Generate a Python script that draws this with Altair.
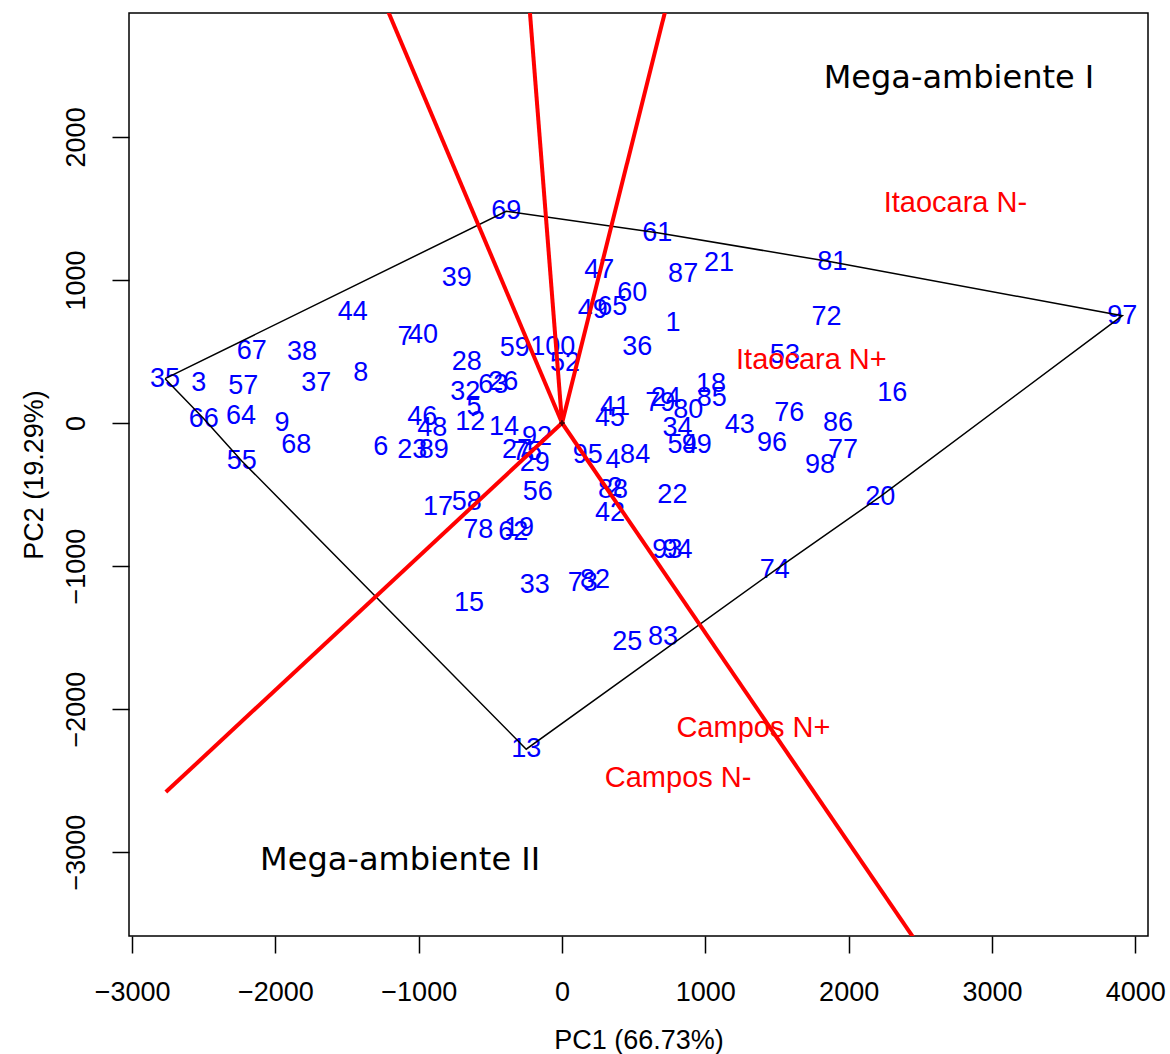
import altair as alt
import pandas as pd

# Genotype scores on the first two principal components
genotype = [1, 2, 3, 4, 5, 6, 7, 8, 9, 12, 13, 14, 15, 16, 17, 18, 19, 20, 21, 22,
            23, 24, 25, 26, 27, 28, 29, 32, 33, 34, 35, 36, 37, 38, 39, 40, 41, 42,
            43, 44, 45, 46, 47, 48, 49, 52, 53, 54, 55, 56, 57, 58, 59, 60, 61, 62,
            63, 64, 65, 66, 67, 68, 69, 72, 73, 74, 75, 76, 77, 78, 79, 80, 81, 82,
            83, 84, 85, 86, 87, 88, 89, 92, 93, 94, 95, 96, 97, 98, 99, 100]
pc1 = [775, 370, -2535, 355, -615, -1265, -1095, -1405, -1955, -640, -250, -405,
       -650, 2305, -865, 1040, -300, 2220, 1095, 770, -1045, 725, 455, -410, -315,
       -665, -190, -675, -190, 805, -2770, 525, -1715, -1815, -735, -970, 370, 335,
       1240, -1460, 335, -975, 260, -905, 215, 20, 1555, 840, -2235, -170, -2225,
       -665, -330, 490, 665, -340, -480, -2240, 350, -2500, -2165, -1855, -390,
       1845, 145, 1485, -245, 1585, 1960, -585, 685, 880, 1885, 230, 705, 510,
       1045, 1925, 845, 355, -895, -175, 735, 805, 180, 1465, 3910, 1800, 940, -65]
pc2 = [700, -455, 280, -260, 110, -170, 600, 350, 0, 5, -2280, -30, -1260, 210,
       -585, 275, -735, -515, 1120, -505, -190, 175, -1530, 285, -190, 425, -280,
       215, -1130, -35, 310, 530, 280, 495, 1015, 615, 110, -630, -15, 775, 35, 40,
       1070, -35, 790, 420, 475, -155, -265, -480, 260, -550, 525, 910, 1330, -760,
       265, 50, 810, 30, 505, -155, 1480, 740, -1120, -1030, -205, 70, -190, -750,
       140, 90, 1125, -1100, -1495, -225, 175, 0, 1040, -470, -190, -100, -890,
       -890, -225, -140, 750, -295, -155, 530]

# Environment markers
environment = ["Itaocara N-", "Itaocara N+", "Campos N+", "Campos N-"]
env_pc1 = [2745, 1740, 1335, 810]
env_pc2 = [1540, 440, -2130, -2480]

# Outer ends of the sector-dividing rays (all start at the origin)
ray_end_pc1 = [-1350, -250, 800, -2765, 2590]
ray_end_pc2 = [3200, 3200, 3200, -2580, -3800]

# Vertex genotypes of the convex hull, in drawing order
hull_order = [35, 69, 61, 81, 97, 20, 74, 13, 55, 66, 35]

# Mega-environment names
sector = ["Mega-ambiente I", "Mega-ambiente II"]
sector_pc1 = [2770, -1130]
sector_pc2 = [2410, -3055]

x_ticks = [-3000, -2000, -1000, 0, 1000, 2000, 3000, 4000]
y_ticks = [-3000, -2000, -1000, 0, 1000, 2000]

geno_df = pd.DataFrame({"genotype": [str(g) for g in genotype], "pc1": pc1, "pc2": pc2})
lookup = {g: (a, b) for g, a, b in zip(genotype, pc1, pc2)}
hull_df = pd.DataFrame({
    "step": list(range(len(hull_order))),
    "pc1": [lookup[g][0] for g in hull_order],
    "pc2": [lookup[g][1] for g in hull_order],
})
ray_df = pd.DataFrame({
    "pc1": [0] * len(ray_end_pc1), "pc2": [0] * len(ray_end_pc1),
    "pc1_end": ray_end_pc1, "pc2_end": ray_end_pc2,
})
env_df = pd.DataFrame({"label": environment, "pc1": env_pc1, "pc2": env_pc2})
sector_df = pd.DataFrame({"label": sector, "pc1": sector_pc1, "pc2": sector_pc2})
origin_df = pd.DataFrame({"pc1": [0], "pc2": [0]})

x_scale = alt.Scale(domain=[-3022, 4089], nice=False, zero=False)
y_scale = alt.Scale(domain=[-3586, 2866], nice=False, zero=False)

x_axis = alt.Axis(values=x_ticks, format="d", title="PC1 (66.73%)",
                  labelBaseline="alphabetic", labelPadding=47,
                  titleBaseline="alphabetic", titleY=112)
y_axis = alt.Axis(values=y_ticks, format="d", title="PC2 (19.29%)",
                  labelAngle=270, labelAlign="center", labelBaseline="alphabetic",
                  labelPadding=28, titleAngle=270, titleBaseline="alphabetic",
                  titleX=-87)


def xe(field="pc1"):
    return alt.X(f"{field}:Q", scale=x_scale, axis=x_axis)


def ye(field="pc2"):
    return alt.Y(f"{field}:Q", scale=y_scale, axis=y_axis)


genotypes = alt.Chart(geno_df).mark_text(
    font="Liberation Sans", fontSize=27, color="#0000FF",
    align="center", baseline="middle"
).encode(x=xe(), y=ye(), text="genotype:N")

hull = alt.Chart(hull_df).mark_line(color="black", strokeWidth=1.5).encode(
    x=xe(), y=ye(), order="step:Q"
)

rays = alt.Chart(ray_df).mark_rule(color="#FF0000", strokeWidth=4, clip=True).encode(
    x=xe(), y=ye(), x2="pc1_end:Q", y2="pc2_end:Q"
)

origin = alt.Chart(origin_df).mark_point(
    shape="cross", color="black", filled=True, size=30
).encode(x=xe(), y=ye())

env_labels = alt.Chart(env_df).mark_text(
    font="Liberation Sans", fontSize=29, color="#FF0000",
    align="center", baseline="middle"
).encode(x=xe(), y=ye(), text="label:N")

sector_labels = alt.Chart(sector_df).mark_text(
    font="DejaVu Sans", fontSize=32, color="black",
    align="center", baseline="middle"
).encode(x=xe(), y=ye(), text="label:N")

chart = alt.layer(
    genotypes, hull, rays, origin, env_labels, sector_labels
).properties(
    width=1019, height=923,
    padding={"left": 129, "top": 13, "right": 22, "bottom": 118},
    autosize=alt.AutoSizeParams(type="none"),
    background="white",
).configure_view(
    stroke="black", strokeWidth=1.5
).configure_axis(
    grid=False, domain=False, ticks=True, tickColor="black", tickSize=17,
    tickWidth=1.5, labelFont="Liberation Sans", labelFontSize=27,
    labelColor="black", labelOverlap=False, labelFlush=False,
    titleFont="Liberation Sans", titleFontSize=27, titleFontWeight="normal",
    titleColor="black"
)

chart.save("out.html", embed_options={"renderer": "svg", "actions": False})
